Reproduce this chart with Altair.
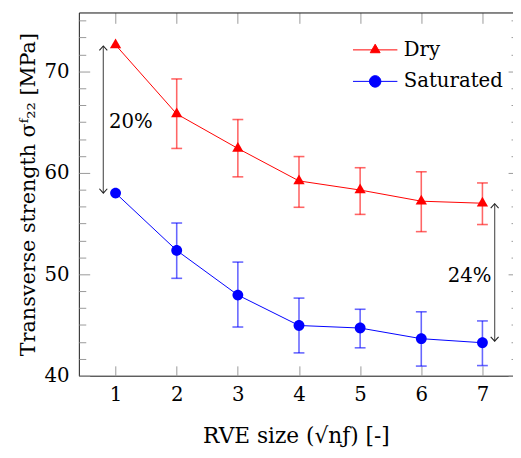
import altair as alt
import pandas as pd

# ---------------- data ----------------
x_vals = [1, 2, 3, 4, 5, 6, 7]
dry_mean = [72.6, 65.8, 62.4, 59.2, 58.3, 57.2, 57.0]
sat_mean = [58.0, 52.35, 47.95, 44.95, 44.7, 43.65, 43.25]

err_x = [2, 3, 4, 5, 6, 7]
dry_upper = [69.25, 65.25, 61.6, 60.5, 60.1, 59.0]
dry_lower = [62.4, 59.6, 56.6, 55.9, 54.2, 54.9]
sat_upper = [55.05, 51.2, 47.65, 46.55, 46.3, 45.4]
sat_lower = [49.6, 44.8, 42.25, 42.75, 40.95, 41.0]

series = ["Dry", "Saturated"]
colors = ["#ff0000", "#0000ff"]

y_major = [40, 50, 60, 70]
y_minor = [41.667, 43.333, 45, 46.667, 48.333, 51.667, 53.333, 55, 56.667, 58.333,
           61.667, 63.333, 65, 66.667, 68.333, 71.667, 73.333, 75]

arrow_x = [0.8, 7.2]
arrow_top = [72.5, 56.95]
arrow_bottom = [58.0, 43.4]
note_text = ["20%", "24%"]
note_x = [1.25, 6.79]
note_y = [65.0, 49.85]

FONT = "DejaVu Serif"
FS = 20
W, H = 441, 369

# marker paths (plot) and legend paths (line + marker); Vega unit is [-1, 1]
tri_path = "M0,-1.2L1.04,0.6L-1.04,0.6Z"
circ_path = "M1,0A1,1 0 1,1 -1,0A1,1 0 1,1 1,0Z"
leg_tri = "M-4.1,0H4.1M0,-1.05L0.91,0.525L-0.91,0.525Z"
leg_circ = "M-4.1,0H4.1M1.06,0A1.06,1.06 0 1,1 -1.06,0A1.06,1.06 0 1,1 1.06,0Z"

means = pd.DataFrame({
    "x": x_vals * 2,
    "v": dry_mean + sat_mean,
    "series": ["Dry"] * len(x_vals) + ["Saturated"] * len(x_vals),
})
errs = pd.DataFrame({
    "x": err_x * 2,
    "lo": dry_lower + sat_lower,
    "hi": dry_upper + sat_upper,
    "series": ["Dry"] * len(err_x) + ["Saturated"] * len(err_x),
})
arrows = pd.DataFrame({"x": arrow_x, "top": arrow_top, "bottom": arrow_bottom})
notes = pd.DataFrame({"x": note_x, "y": note_y, "t": note_text})

xs = alt.Scale(domain=[0.4, 7.5], nice=False, zero=False)
ys = alt.Scale(domain=[40, 75.8], nice=False, zero=False)

TICKC = "#999999"
FRAME = "#222222"

# axes
ax_x_main = alt.Axis(orient="bottom", values=x_vals, ticks=False, tickSize=0, domain=True,
                     domainColor=FRAME, domainWidth=1, grid=False, labelFont=FONT,
                     labelFontSize=FS, labelColor="black", labelPadding=9,
                     title="RVE size (\u221an\u0192) [-]", titleFont=FONT, titleFontSize=22,
                     titleFontWeight="normal", titleColor="black", titlePadding=22)
ax_y_main = alt.Axis(orient="left", values=y_major, ticks=False, tickSize=0, domain=True,
                     domainColor=FRAME, domainWidth=1, grid=False, labelFont=FONT,
                     labelFontSize=FS, labelColor="black", labelPadding=10,
                     title="Transverse strength \u03c3\u1da0\u2082\u2082 [MPa]", titleFont=FONT,
                     titleFontSize=21, titleFontWeight="normal", titleColor="black",
                     titlePadding=6)
ax_x_bot_in = alt.Axis(orient="top", offset=-H, values=x_vals, ticks=True, tickSize=10,
                       tickColor=TICKC, tickWidth=1, labels=False, domain=False, grid=False,
                       title=None)
ax_x_top_in = alt.Axis(orient="bottom", offset=-H, values=x_vals, ticks=True, tickSize=11,
                       tickColor=TICKC, tickWidth=1, labels=False, domain=True,
                       domainColor=FRAME, domainWidth=1, grid=False, title=None)
ax_y_left_major = alt.Axis(orient="right", offset=-W, values=y_major, ticks=True, tickSize=11,
                           tickColor=TICKC, tickWidth=1, labels=False, domain=False,
                           grid=False, title=None)
ax_y_left_minor = alt.Axis(orient="right", offset=-W, values=y_minor, ticks=True, tickSize=7,
                           tickColor=TICKC, tickWidth=1, labels=False, domain=False,
                           grid=False, title=None)
ax_y_right_major = alt.Axis(orient="left", offset=-W, values=y_major, ticks=True, tickSize=5,
                            tickColor=TICKC, tickWidth=1, labels=False, domain=False,
                            grid=False, title=None)
ax_y_right_minor = alt.Axis(orient="left", offset=-W, values=y_minor, ticks=True, tickSize=2,
                            tickColor=TICKC, tickWidth=1, labels=False, domain=False,
                            grid=False, title=None)


def X(field, axis=None):
    return alt.X(field, type="quantitative", scale=xs, axis=axis)


def Y(field, axis=None):
    return alt.Y(field, type="quantitative", scale=ys, axis=axis)


layers = []
markers = [tri_path, circ_path]

axis_pairs = [
    (ax_x_main, ax_y_main),
    (ax_x_bot_in, ax_y_left_major),
    (ax_x_top_in, ax_y_left_minor),
    (None, ax_y_right_major),
    (None, ax_y_right_minor),
]

arrow_rule = alt.Chart(arrows).mark_rule(color="#666666", strokeWidth=1.3).encode(
    x=X("x", axis_pairs[0][0]), y=Y("top", axis_pairs[0][1]), y2="bottom")
arrow_up = alt.Chart(arrows).mark_point(
    shape="M-1,1.1L0,0L1,1.1", size=64, filled=False, stroke="#222222",
    strokeWidth=1.1, opacity=1).encode(x=X("x", axis_pairs[1][0]), y=Y("top", axis_pairs[1][1]))
arrow_down = alt.Chart(arrows).mark_point(
    shape="M-1,-1.1L0,0L1,-1.1", size=64, filled=False, stroke="#222222",
    strokeWidth=1.1, opacity=1).encode(x=X("x", axis_pairs[2][0]), y=Y("bottom", axis_pairs[2][1]))
layers += [arrow_rule, arrow_up, arrow_down]

k = 3
for s, c, m in zip(series, colors, markers):
    d = means[means.series == s]
    e = errs[errs.series == s]
    ax_y = axis_pairs[k][1] if k < len(axis_pairs) else None
    k += 1
    line = alt.Chart(d).mark_line(color=c, strokeWidth=1).encode(x=X("x"), y=Y("v", ax_y))
    rule = alt.Chart(e).mark_rule(color=c, strokeWidth=1.6, opacity=0.6).encode(
        x=X("x"), y=Y("lo"), y2="hi")
    cap_lo = alt.Chart(e).mark_tick(color=c, orient="horizontal", size=11, thickness=1.6,
                                     opacity=0.6).encode(x=X("x"), y=Y("lo"))
    cap_hi = alt.Chart(e).mark_tick(color=c, orient="horizontal", size=11, thickness=1.6,
                                     opacity=0.6).encode(x=X("x"), y=Y("hi"))
    pts = alt.Chart(d).mark_point(filled=True, shape=m, size=121, color=c, opacity=1).encode(
        x=X("x"), y=Y("v"))
    layers += [line, rule, cap_lo, cap_hi, pts]

leg_fill = alt.Scale(domain=series, range=colors)
leg_shape = alt.Scale(domain=series, range=[leg_tri, leg_circ])
legend = alt.Legend(title=None, orient="none", legendX=291, legendY=28, labelFont=FONT,
                    labelFontSize=FS, labelColor="black", labelOffset=19, rowPadding=12,
                    symbolSize=121, symbolStrokeWidth=1, symbolOpacity=1, padding=0,
                    labelLimit=300)
leg_layer = alt.Chart(means).mark_point(filled=True, size=121, opacity=0).encode(
    x=X("x"), y=Y("v"),
    fill=alt.Fill("series:N", scale=leg_fill, legend=legend),
    stroke=alt.Stroke("series:N", scale=leg_fill, legend=legend),
    shape=alt.Shape("series:N", scale=leg_shape, legend=legend),
)
layers.append(leg_layer)

text = alt.Chart(notes).mark_text(font=FONT, fontSize=FS, color="black", align="center",
                                  baseline="middle").encode(x=X("x"), y=Y("y"), text="t:N")
layers.append(text)

chart = alt.layer(*layers).resolve_axis(x="independent", y="independent").properties(
    width=W, height=H,
    autosize=alt.AutoSizeParams(type="none"),
    padding={"left": 72, "top": 1, "right": 0, "bottom": 78},
).configure_view(stroke=None).configure(background="white")

chart.save("out.html", embed_options={"renderer": "svg", "actions": False})
